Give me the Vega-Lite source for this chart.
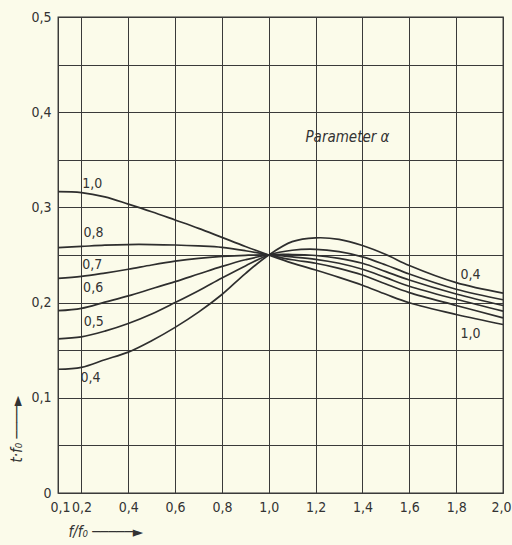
{
  "$schema": "https://vega.github.io/schema/vega-lite/v6.json",
  "width": 445,
  "height": 476,
  "autosize": "none",
  "padding": {"left": 58, "top": 17, "right": 9, "bottom": 52},
  "background": "#fbfbea",
  "config": {
    "view": {"stroke": "#333333", "strokeWidth": 1.3},
    "font": "DejaVu Sans Condensed, Roboto, sans-serif",
    "axis": {
      "grid": true,
      "gridColor": "#3a3a3a",
      "gridOpacity": 1,
      "gridWidth": 1,
      "domain": false,
      "ticks": false,
      "labelOverlap": false,
      "labelFont": "DejaVu Sans Condensed, Roboto, sans-serif",
      "labelFontSize": 14,
      "labelColor": "#333333",
      "titleFont": "DejaVu Sans Condensed, Roboto, sans-serif",
      "titleFontSize": 15,
      "titleFontWeight": "normal",
      "titleFontStyle": "italic",
      "titleColor": "#333333"
    }
  },
  "datasets": {
    "curves": [
      {"a": "0,4", "x": 0.1, "y": 0.130}, {"a": "0,4", "x": 0.2, "y": 0.132}, {"a": "0,4", "x": 0.3, "y": 0.140}, {"a": "0,4", "x": 0.4, "y": 0.148}, {"a": "0,4", "x": 0.5, "y": 0.160}, {"a": "0,4", "x": 0.6, "y": 0.174}, {"a": "0,4", "x": 0.7, "y": 0.190}, {"a": "0,4", "x": 0.8, "y": 0.2085}, {"a": "0,4", "x": 0.9, "y": 0.2305}, {"a": "0,4", "x": 1.0, "y": 0.250}, {"a": "0,4", "x": 1.1, "y": 0.264}, {"a": "0,4", "x": 1.2, "y": 0.268}, {"a": "0,4", "x": 1.3, "y": 0.2665}, {"a": "0,4", "x": 1.4, "y": 0.260}, {"a": "0,4", "x": 1.5, "y": 0.2505}, {"a": "0,4", "x": 1.6, "y": 0.239}, {"a": "0,4", "x": 1.8, "y": 0.221}, {"a": "0,4", "x": 2.0, "y": 0.210},
      {"a": "0,5", "x": 0.1, "y": 0.162}, {"a": "0,5", "x": 0.2, "y": 0.164}, {"a": "0,5", "x": 0.3, "y": 0.170}, {"a": "0,5", "x": 0.4, "y": 0.178}, {"a": "0,5", "x": 0.5, "y": 0.188}, {"a": "0,5", "x": 0.6, "y": 0.200}, {"a": "0,5", "x": 0.7, "y": 0.2125}, {"a": "0,5", "x": 0.8, "y": 0.2258}, {"a": "0,5", "x": 0.9, "y": 0.2385}, {"a": "0,5", "x": 1.0, "y": 0.250}, {"a": "0,5", "x": 1.1, "y": 0.255}, {"a": "0,5", "x": 1.2, "y": 0.256}, {"a": "0,5", "x": 1.3, "y": 0.2535}, {"a": "0,5", "x": 1.4, "y": 0.248}, {"a": "0,5", "x": 1.5, "y": 0.2395}, {"a": "0,5", "x": 1.6, "y": 0.230}, {"a": "0,5", "x": 1.8, "y": 0.214}, {"a": "0,5", "x": 2.0, "y": 0.203},
      {"a": "0,6", "x": 0.1, "y": 0.1915}, {"a": "0,6", "x": 0.2, "y": 0.194}, {"a": "0,6", "x": 0.3, "y": 0.2005}, {"a": "0,6", "x": 0.4, "y": 0.207}, {"a": "0,6", "x": 0.5, "y": 0.2145}, {"a": "0,6", "x": 0.6, "y": 0.222}, {"a": "0,6", "x": 0.7, "y": 0.230}, {"a": "0,6", "x": 0.8, "y": 0.2380}, {"a": "0,6", "x": 0.9, "y": 0.2450}, {"a": "0,6", "x": 1.0, "y": 0.250}, {"a": "0,6", "x": 1.1, "y": 0.2505}, {"a": "0,6", "x": 1.2, "y": 0.2495}, {"a": "0,6", "x": 1.3, "y": 0.2465}, {"a": "0,6", "x": 1.4, "y": 0.2413}, {"a": "0,6", "x": 1.5, "y": 0.2325}, {"a": "0,6", "x": 1.6, "y": 0.2237}, {"a": "0,6", "x": 1.8, "y": 0.209}, {"a": "0,6", "x": 2.0, "y": 0.197},
      {"a": "0,7", "x": 0.1, "y": 0.2255}, {"a": "0,7", "x": 0.2, "y": 0.2275}, {"a": "0,7", "x": 0.3, "y": 0.231}, {"a": "0,7", "x": 0.4, "y": 0.235}, {"a": "0,7", "x": 0.5, "y": 0.2395}, {"a": "0,7", "x": 0.6, "y": 0.2435}, {"a": "0,7", "x": 0.7, "y": 0.2465}, {"a": "0,7", "x": 0.8, "y": 0.2485}, {"a": "0,7", "x": 0.9, "y": 0.2497}, {"a": "0,7", "x": 1.0, "y": 0.250}, {"a": "0,7", "x": 1.1, "y": 0.248}, {"a": "0,7", "x": 1.2, "y": 0.2455}, {"a": "0,7", "x": 1.3, "y": 0.2413}, {"a": "0,7", "x": 1.4, "y": 0.235}, {"a": "0,7", "x": 1.5, "y": 0.2262}, {"a": "0,7", "x": 1.6, "y": 0.2172}, {"a": "0,7", "x": 1.8, "y": 0.2035}, {"a": "0,7", "x": 2.0, "y": 0.191},
      {"a": "0,8", "x": 0.1, "y": 0.2577}, {"a": "0,8", "x": 0.2, "y": 0.259}, {"a": "0,8", "x": 0.3, "y": 0.2603}, {"a": "0,8", "x": 0.4, "y": 0.261}, {"a": "0,8", "x": 0.5, "y": 0.261}, {"a": "0,8", "x": 0.6, "y": 0.2605}, {"a": "0,8", "x": 0.7, "y": 0.2595}, {"a": "0,8", "x": 0.8, "y": 0.258}, {"a": "0,8", "x": 0.9, "y": 0.2545}, {"a": "0,8", "x": 1.0, "y": 0.250}, {"a": "0,8", "x": 1.1, "y": 0.245}, {"a": "0,8", "x": 1.2, "y": 0.2413}, {"a": "0,8", "x": 1.3, "y": 0.236}, {"a": "0,8", "x": 1.4, "y": 0.229}, {"a": "0,8", "x": 1.5, "y": 0.2195}, {"a": "0,8", "x": 1.6, "y": 0.2105}, {"a": "0,8", "x": 1.8, "y": 0.197}, {"a": "0,8", "x": 2.0, "y": 0.184},
      {"a": "1,0", "x": 0.1, "y": 0.3165}, {"a": "1,0", "x": 0.2, "y": 0.3155}, {"a": "1,0", "x": 0.3, "y": 0.311}, {"a": "1,0", "x": 0.4, "y": 0.3035}, {"a": "1,0", "x": 0.5, "y": 0.2955}, {"a": "1,0", "x": 0.6, "y": 0.2868}, {"a": "1,0", "x": 0.7, "y": 0.278}, {"a": "1,0", "x": 0.8, "y": 0.2685}, {"a": "1,0", "x": 0.9, "y": 0.259}, {"a": "1,0", "x": 1.0, "y": 0.250}, {"a": "1,0", "x": 1.1, "y": 0.2415}, {"a": "1,0", "x": 1.2, "y": 0.2342}, {"a": "1,0", "x": 1.3, "y": 0.2265}, {"a": "1,0", "x": 1.4, "y": 0.2182}, {"a": "1,0", "x": 1.5, "y": 0.2087}, {"a": "1,0", "x": 1.6, "y": 0.1998}, {"a": "1,0", "x": 1.8, "y": 0.1875}, {"a": "1,0", "x": 2.0, "y": 0.177}
    ],
    "labels": [
      {"t": "1,0", "x": 0.246, "y": 0.325},
      {"t": "0,8", "x": 0.252, "y": 0.273},
      {"t": "0,7", "x": 0.246, "y": 0.2395},
      {"t": "0,6", "x": 0.25, "y": 0.215},
      {"t": "0,5", "x": 0.253, "y": 0.18},
      {"t": "0,4", "x": 0.239, "y": 0.1205},
      {"t": "0,4", "x": 1.861, "y": 0.229},
      {"t": "1,0", "x": 1.861, "y": 0.167}
    ],
    "notes": [
      {"t": "Parameter α", "x": 1.336, "y": 0.374}
    ]
  },
  "layer": [
    {
      "data": {"name": "curves"},
      "mark": {"type": "line", "interpolate": "catmull-rom", "color": "#2e2e2e", "strokeWidth": 1.7},
      "encoding": {
        "x": {
          "field": "x", "type": "quantitative",
          "scale": {"domain": [0.1, 2.0], "nice": false, "zero": false},
          "axis": {
            "values": [0.1, 0.2, 0.4, 0.6, 0.8, 1.0, 1.2, 1.4, 1.6, 1.8, 2.0],
            "labelExpr": "replace(format(datum.value, '.1f'), '.', ',')",
            "labelPadding": 7,
            "labelFlush": true,
            "labelFlushOffset": 8,
            "title": "f/f₀  ─────►",
            "titleAnchor": "start",
            "titleAlign": "left",
            "titleBaseline": "middle",
            "titleX": 10,
            "titleY": 38
          }
        },
        "y": {
          "field": "y", "type": "quantitative",
          "scale": {"domain": [0, 0.5], "nice": false},
          "axis": {
            "values": [0, 0.05, 0.1, 0.15, 0.2, 0.25, 0.3, 0.35, 0.4, 0.45, 0.5],
            "labelExpr": "abs(datum.value * 10 - round(datum.value * 10)) < 0.01 ? (datum.value == 0 ? '0' : replace(format(datum.value, '.1f'), '.', ',')) : ''",
            "labelPadding": 7,
            "labelFlush": false,
            "title": "t·f₀  ────►",
            "titleAngle": -90,
            "titleAlign": "left",
            "titleBaseline": "middle",
            "titleX": -42,
            "titleY": 445
          }
        },
        "detail": {"field": "a"}
      }
    },
    {
      "data": {"name": "labels"},
      "mark": {"type": "text", "font": "DejaVu Sans Condensed, Roboto, sans-serif", "fontSize": 14, "color": "#333333"},
      "encoding": {
        "x": {"field": "x", "type": "quantitative"},
        "y": {"field": "y", "type": "quantitative"},
        "text": {"field": "t"}
      }
    },
    {
      "data": {"name": "notes"},
      "mark": {"type": "text", "font": "DejaVu Sans Condensed, Roboto, sans-serif", "fontSize": 15, "fontStyle": "italic", "color": "#333333"},
      "encoding": {
        "x": {"field": "x", "type": "quantitative"},
        "y": {"field": "y", "type": "quantitative"},
        "text": {"field": "t"}
      }
    }
  ]
}
